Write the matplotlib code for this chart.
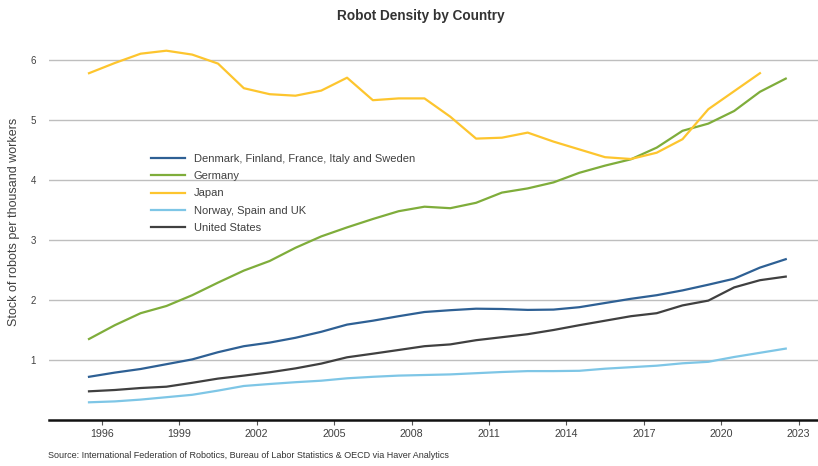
import matplotlib
matplotlib.use("Agg")
import matplotlib.pyplot as plt
import numpy as np

plt.rcParams['font.family'] = ['Liberation Sans', 'DejaVu Sans']
narrow = ['Liberation Sans Narrow', 'Liberation Sans', 'DejaVu Sans']

# annual observations, plotted at mid-year
years = np.arange(1995, 2023)
years_jp = np.arange(1995, 2022)

nordic_eu = [0.72, 0.79, 0.85, 0.93, 1.01, 1.13, 1.23, 1.29, 1.37, 1.47,
             1.59, 1.655, 1.73, 1.80, 1.83, 1.855, 1.85, 1.835, 1.84, 1.88,
             1.95, 2.02, 2.08, 2.16, 2.255, 2.355, 2.54, 2.68]
germany = [1.35, 1.58, 1.78, 1.90, 2.08, 2.29, 2.49, 2.65, 2.87, 3.06,
           3.21, 3.35, 3.48, 3.555, 3.53, 3.62, 3.79, 3.86, 3.96, 4.12,
           4.24, 4.345, 4.54, 4.82, 4.94, 5.15, 5.47, 5.69]
japan = [5.78, 5.95, 6.105, 6.155, 6.09, 5.94, 5.53, 5.43, 5.405, 5.49,
         5.705, 5.33, 5.36, 5.36, 5.055, 4.69, 4.705, 4.79, 4.64, 4.51,
         4.38, 4.35, 4.455, 4.68, 5.18, 5.48, 5.78]
nor_spa_uk = [0.295, 0.31, 0.34, 0.38, 0.42, 0.49, 0.567, 0.60, 0.63, 0.655,
              0.695, 0.72, 0.74, 0.75, 0.76, 0.78, 0.80, 0.815, 0.815, 0.82,
              0.855, 0.88, 0.905, 0.945, 0.97, 1.05, 1.12, 1.19]
usa = [0.478, 0.50, 0.533, 0.555, 0.62, 0.69, 0.74, 0.795, 0.86, 0.94,
       1.045, 1.105, 1.167, 1.23, 1.26, 1.33, 1.38, 1.43, 1.50, 1.58,
       1.655, 1.73, 1.78, 1.91, 1.99, 2.21, 2.33, 2.39]

tick_years = np.arange(1996, 2024, 3)
y_ticks = [1, 2, 3, 4, 5, 6]

fig = plt.figure(figsize=(8.18, 4.66), dpi=100)
ax = fig.add_axes([49 / 818, 46 / 466, 769 / 818, 390 / 466])

lw = 1.6
ax.plot(years + 0.5, nordic_eu, color='#2E6094', lw=lw,
        label='Denmark, Finland, France, Italy and Sweden')
ax.plot(years + 0.5, germany, color='#7FAD3B', lw=lw, label='Germany')
ax.plot(years_jp + 0.5, japan, color='#FDC52E', lw=lw, label='Japan')
ax.plot(years + 0.5, nor_spa_uk, color='#7EC6E6', lw=lw, label='Norway, Spain and UK')
ax.plot(years + 0.5, usa, color='#404040', lw=lw, label='United States')

ax.set_xlim(1993.95, 2023.75)
ax.set_ylim(0, 6.5)
ax.set_xticks(tick_years)
ax.set_xticklabels([str(y) for y in tick_years], fontfamily=narrow)
ax.set_yticks(y_ticks)
ax.set_yticklabels([str(v) for v in y_ticks])

ax.grid(axis='y', color='#BEBEBE', lw=1.0)
ax.set_axisbelow(True)
for side in ['top', 'right', 'left']:
    ax.spines[side].set_visible(False)
ax.spines['bottom'].set_color('#111111')
ax.spines['bottom'].set_linewidth(1.8)
ax.tick_params(axis='y', length=0, pad=9.5, labelsize=7, labelcolor='#404040')
ax.tick_params(axis='x', length=3.5, width=0.8, color='#555555', pad=3,
               labelsize=7.7, labelcolor='#404040')

ax.set_ylabel('Stock of robots per thousand workers', fontsize=9, color='#404040')
ax.yaxis.set_label_coords(-29 / 769, 0.508)

ax.legend(loc='upper left', bbox_to_anchor=(98 / 769, 0.694), frameon=False,
          fontsize=8, handlelength=3.0, handletextpad=0.8, labelspacing=0.66,
          labelcolor='#404040', borderaxespad=0)

fig.text(0.515, 0.966, 'Robot Density by Country', ha='center', va='center',
         fontsize=9.8, fontweight='bold', color='#333333', fontfamily=narrow)
fig.text(48 / 818, 0.012, 'Source: International Federation of Robotics, Bureau of '
         'Labor Statistics & OECD via Haver Analytics', ha='left', va='bottom',
         fontsize=6.45, color='#333333', fontfamily=narrow)

fig.savefig('out.png', dpi=100)
